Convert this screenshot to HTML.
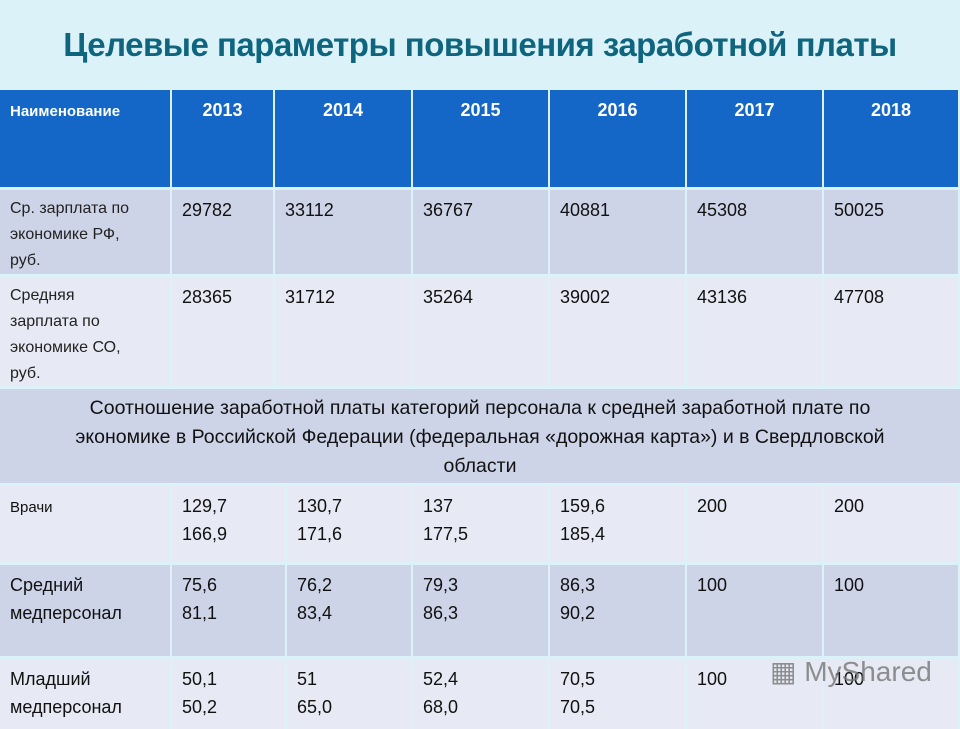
<!DOCTYPE html>
<html><head><meta charset="utf-8"><style>
body{margin:0;width:960px;height:720px;overflow:hidden;background:#dbf3f8;font-family:"Liberation Sans","DejaVu Sans",sans-serif;position:relative}
.t{position:absolute;left:0;top:26px;width:960px;text-align:center;color:#10657e;font-weight:bold;font-size:33px;white-space:nowrap;letter-spacing:-0.5px}
.c{position:absolute;box-sizing:border-box;padding:6px 10px;color:#111;font-size:18px;line-height:28px;overflow:hidden}
.h{background:#1467c6;color:#fff;font-weight:bold;text-align:center;padding-top:6px}
.d{background:#cdd4e8}.l{background:#e7eaf4}
.lab{font-size:16px;line-height:26px;color:#222;padding-right:10px}
.wm{position:absolute;left:770px;top:655px;font-size:28px;color:#777;opacity:.8}
</style></head><body>
<div class="t">Целевые параметры повышения заработной платы</div>
<div id="tbl"></div>
<div class="wm">▦ MyShared</div>
<script>
const years=["2013","2014","2015","2016","2017","2018"];
const rfWage=["29782","33112","36767","40881","45308","50025"];
const soWage=["28365","31712","35264","39002","43136","47708"];
const doctors=["129,7<br>166,9","130,7<br>171,6","137<br>177,5","159,6<br>185,4","200","200"];
const nurses=["75,6<br>81,1","76,2<br>83,4","79,3<br>86,3","86,3<br>90,2","100","100"];
const junior=["50,1<br>50,2","51<br>65,0","52,4<br>68,0","70,5<br>70,5","100","100"];
const tbl=document.getElementById('tbl');
function cell(x,y,w,h,cls,html,name){
 const e=document.createElement('div');
 e.className='c '+cls;
 e.style.cssText=`left:${x}px;top:${y}px;width:${w}px;height:${h}px`;
 e.innerHTML=html;
 
 
 tbl.appendChild(e);
 return e;
}
const topX=[0,172,275,413,550,687,824,960];
const botX=[0,172,287,413,550,687,824,960];
const rows=[
 {y:90,h:97,cls:'h',lab:'<span style="font-size:15px">Наименование</span>',vals:years,name:'header'},
 {y:190,h:84,cls:'d',lab:'Ср. зарплата по<br>экономике РФ,<br>руб.',vals:rfWage,name:'rf-wage'},
 {y:277,h:109,cls:'l',lab:'Средняя<br>зарплата по<br>экономике СО,<br>руб.',vals:soWage,name:'so-wage'}];
rows.forEach(r=>{
 const lab=cell(0,r.y,topX[1]-2,r.h,r.cls+(r.cls==='h'?'':' lab'),r.lab,r.name+'-label');
 if(r.cls==='h'){lab.style.textAlign='left';}
 r.vals.forEach((v,i)=>cell(topX[i+1],r.y,topX[i+2]-topX[i+1]-2,r.h,r.cls,v,r.name+'-'+years[i]));
});
const st=cell(0,389,960,94,'d','Соотношение заработной платы категорий персонала к средней заработной плате по<br>экономике в Российской Федерации (федеральная «дорожная карта») и в Свердловской<br>области','ratio-section-title');
st.style.textAlign='center';
st.style.padding='5px 4px';
st.style.lineHeight='29px';
st.style.fontSize='19.5px';
const rows2=[
 {y:486,h:76,cls:'l',lab:'<span style="font-size:15px">Врачи</span>',vals:doctors,name:'doctors'},
 {y:565,h:91,cls:'d',lab:'Средний медперсонал',vals:nurses,name:'nurses'},
 {y:659,h:70,cls:'l',lab:'Младший медперсонал',vals:junior,name:'junior'}];
rows2.forEach(r=>{
 cell(0,r.y,botX[1]-2,r.h,r.cls,r.lab,r.name+'-label');
 r.vals.forEach((v,i)=>cell(botX[i+1],r.y,botX[i+2]-botX[i+1]-2,r.h,r.cls,v,r.name+'-'+years[i]));
});
</script>
</body></html>
